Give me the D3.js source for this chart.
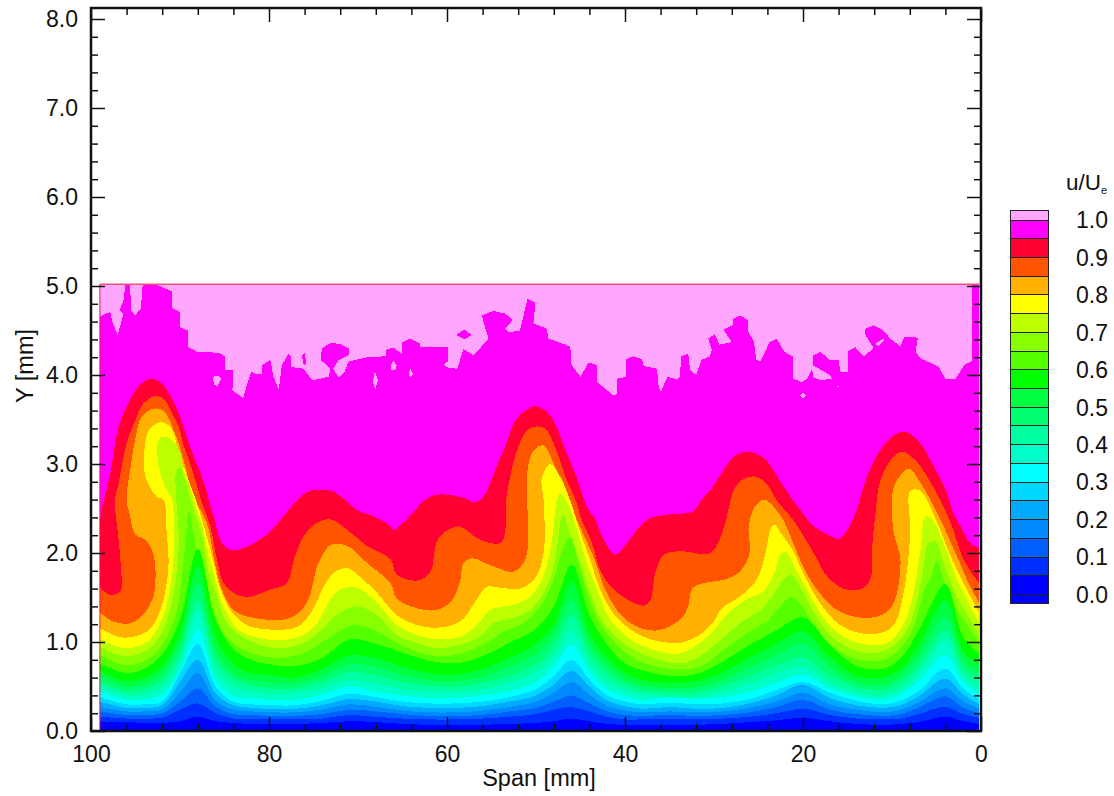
<!DOCTYPE html>
<html>
<head>
<meta charset="utf-8">
<script src="https://cdn.jsdelivr.net/npm/d3@7"></script>
<style>
  html, body { margin: 0; background: #fff; }
  text { font-family: "Liberation Sans", Arial, sans-serif; fill: #111; }
</style>
</head>
<body>
<svg id="chart" width="1114" height="796"></svg>
<script>
// contour levels of u/Ue and the colour of the band just under each one
const levels = [0.05,0.1,0.15,0.2,0.25,0.3,0.35,0.4,0.45,0.5,0.55,0.6,0.65,0.7,0.75,0.8,0.85,0.9,0.95,1.0];
const bandColors = ['#0000ff','#0030ff','#0060ff','#0088ff','#00aaff','#00d8ff','#00ffff','#00ffc8','#00ffa0','#00ff70',
  '#00ff40','#00ff00','#55ff00','#88ff00','#bbff00','#ffff00','#ffb000','#ff5500','#ff0033','#ff00ff'];
const colorAboveTop = '#ffa6ff';
const colorBelowZero = '#0000ff';
const legendTicks = [0,0.1,0.2,0.3,0.4,0.5,0.6,0.7,0.8,0.9,1.0];

// lower contours: height in mm at each span station
const spanStations = [99,96,94,92,90,88,86,84,82,80,77,74,71,68,65,62,59,56,53,50,48,46,44,42,40,38,35,32,29,26,23,20,17,14,11,9,7,4,2,0.2];
const h05 = [.10,.10,.09,.09,.11,.16,.11,.09,.08,.08,.08,.09,.11,.10,.08,.07,.07,.07,.08,.09,.11,.14,.11,.08,.07,.07,.07,.07,.08,.10,.12,.15,.11,.08,.07,.08,.10,.16,.11,.08];
const h10 = [.16,.14,.14,.15,.24,.31,.20,.14,.13,.13,.13,.14,.18,.16,.14,.13,.13,.14,.16,.19,.24,.27,.22,.16,.13,.13,.13,.13,.14,.16,.20,.25,.18,.14,.13,.14,.19,.27,.19,.15];
const h15 = [.22,.18,.18,.20,.33,.48,.27,.19,.18,.17,.17,.19,.24,.22,.19,.17,.17,.18,.22,.26,.33,.40,.31,.22,.18,.17,.18,.17,.18,.21,.27,.35,.24,.19,.17,.19,.26,.39,.26,.20];
const h20 = [.27,.22,.22,.24,.43,.65,.34,.24,.22,.21,.21,.24,.30,.27,.23,.21,.21,.23,.27,.33,.43,.55,.41,.28,.23,.21,.22,.21,.22,.26,.33,.43,.30,.24,.21,.24,.32,.48,.33,.25];
const h25 = [.33,.26,.26,.29,.55,.80,.42,.29,.26,.25,.25,.29,.36,.33,.28,.26,.26,.28,.33,.40,.52,.68,.50,.34,.28,.25,.27,.25,.26,.31,.40,.52,.37,.29,.26,.29,.39,.59,.41,.30];
const h30 = [.38,.30,.30,.33,.65,.98,.50,.33,.30,.29,.29,.34,.42,.38,.33,.31,.31,.33,.38,.47,.62,.80,.58,.40,.33,.30,.32,.30,.31,.36,.46,.55,.43,.34,.30,.34,.45,.70,.48,.35];
const h35 = [.44,.35,.35,.41,.68,1.15,.57,.39,.37,.35,.35,.41,.50,.44,.40,.37,.37,.40,.45,.55,.72,.97,.67,.47,.39,.35,.38,.36,.38,.44,.54,.63,.48,.39,.35,.41,.56,.85,.55,.42];
const h40 = [.50,.40,.41,.49,.78,1.36,.68,.49,.45,.42,.43,.48,.57,.53,.47,.45,.44,.47,.54,.66,.83,1.12,.76,.55,.46,.41,.38,.38,.44,.53,.64,.72,.54,.43,.40,.47,.65,1.02,.62,.50];
const h45 = [.55,.45,.47,.57,.88,1.47,.80,.58,.51,.48,.48,.55,.66,.63,.55,.51,.50,.54,.62,.75,.95,1.30,.87,.64,.52,.46,.43,.43,.51,.62,.74,.83,.62,.49,.46,.54,.74,1.13,.70,.58];
const h50 = [.61,.50,.53,.65,.98,1.66,.90,.65,.57,.55,.54,.62,.75,.72,.63,.57,.56,.61,.72,.87,1.08,1.47,.98,.73,.58,.51,.48,.49,.58,.72,.85,.98,.72,.55,.52,.62,.85,1.28,.80,.66];
const h55 = [.67,.56,.60,.73,1.10,1.85,1.05,.75,.65,.63,.60,.70,.85,.82,.72,.65,.63,.70,.82,.98,1.20,1.68,1.10,.82,.65,.57,.54,.56,.66,.83,.98,1.12,.83,.62,.60,.70,.97,1.47,.90,.75];
const h60 = [.76,.65,.70,.86,1.25,2.05,1.25,.92,.80,.75,.73,.82,1.03,.98,.88,.79,.76,.84,.99,1.15,1.40,1.87,1.30,.97,.76,.68,.62,.64,.78,.97,1.13,1.28,.97,.73,.70,.82,1.13,1.65,1.05,.87];

// upper contours fold back on themselves, so these are [span, height]
const c65 = [[99,.86],[96.35,.74],[93.7,.8],[91.85,.99],[90.35,1.36],[89.4,2.11],[89,2.47],[88.5,2.22],[87.5,1.74],[86.4,1.4],[85.1,1.1],[82.85,.91],[79.1,.82],[75.75,.89],[73.1,1.06],[70.5,1.19],[67.85,1.12],[65.65,.99],[63.4,.89],[61.15,.84],[58.5,.87],[55.9,.97],[53.6,1.12],[51.4,1.21],[49.5,1.4],[48,1.7],[46.9,2.07],[46.1,2.18],[45.4,1.96],[44.3,1.59],[43,1.25],[40.9,.97],[38.3,.78],[33.8,.69],[31.2,.74],[28.95,.91],[26.3,1.1],[24.1,1.23],[22.6,1.4],[21.25,1.51],[20.1,1.4],[18.45,1.14],[16.2,.91],[13.55,.8],[10.95,.8],[9.05,.93],[7.55,1.17],[6.25,1.62],[5.7,1.7],[5,1.91],[4.2,1.7],[2.7,1.36],[1.2,1.14],[.2,.99]];
const c70 = [[99,.95],[96.35,.84],[93.7,.91],[92.05,1.1],[90.7,1.55],[90.15,2.11],[90.35,2.52],[90.5,2.74],[90.4,2.93],[90,2.96],[89.6,2.86],[89,2.67],[88.5,2.49],[87.5,2.19],[86.8,1.79],[86,1.55],[84.7,1.21],[82.5,1.03],[79.1,.93],[76.1,.99],[73.85,1.16],[72.35,1.31],[70.1,1.4],[67.85,1.3],[65.65,1.08],[63.4,.99],[61.15,.93],[58.5,.97],[56.3,1.06],[54.8,1.21],[52.5,1.27],[50.65,1.36],[49.15,1.55],[48,1.85],[47.1,2.41],[46.9,2.43],[46.15,2.19],[45,1.89],[43.9,1.55],[42.6,1.25],[40.5,1.01],[37.9,.86],[33.8,.76],[31.6,.84],[29.3,1.02],[27.1,1.21],[24.8,1.36],[23.3,1.53],[22.2,1.7],[21.25,1.75],[20.3,1.61],[18.8,1.34],[16.95,1.08],[14.3,.91],[11.7,.88],[9.45,.99],[7.95,1.21],[6.6,1.74],[5.9,2.11],[5.1,2.13],[4.2,1.89],[2.7,1.51],[1.2,1.25],[.2,1.08]];
const c75 = [[99,1.04],[96.35,.93],[93.7,1.0],[92.05,1.25],[90.9,1.73],[90.7,2.22],[90.9,2.6],[91.65,2.74],[92.4,2.97],[92.4,3.27],[91.65,3.31],[90.7,3.25],[90,3.14],[89.6,2.93],[88.85,2.74],[88.1,2.48],[87.5,2.3],[86.8,1.96],[86.2,1.77],[85.3,1.44],[83.6,1.15],[81.7,1.06],[78.7,1.02],[76.1,1.08],[74.6,1.21],[73.1,1.48],[72,1.59],[70.1,1.61],[67.85,1.44],[65.65,1.19],[63.4,1.08],[61.15,1.03],[58.5,1.06],[56.65,1.19],[55.15,1.36],[52.5,1.42],[50.65,1.51],[49.15,1.74],[48.2,2.15],[47.65,2.6],[47.3,2.67],[46.3,2.52],[45.4,2.26],[44.3,1.89],[43.15,1.59],[41.65,1.25],[39.4,1.03],[36.8,.91],[33.8,.87],[31.6,.99],[30.05,1.12],[28.55,1.31],[26.3,1.48],[24.45,1.57],[23.1,1.81],[22.6,1.98],[21.9,2.01],[20.9,1.83],[19.55,1.59],[17.7,1.27],[15.45,1.06],[12.8,.97],[10.6,.99],[9.05,1.14],[7.95,1.4],[6.8,2.04],[6.25,2.41],[5.5,2.38],[4.2,2.11],[2.7,1.7],[1.2,1.4],[.2,1.21]];
const c80 = [[99,1.15],[96.35,1.05],[93.7,1.12],[92.2,1.36],[91.3,1.85],[91.5,2.22],[91.85,2.6],[92.6,2.63],[93.9,2.86],[94,3.15],[93.5,3.38],[92.2,3.47],[91.1,3.42],[90,3.08],[89.2,2.86],[88.1,2.56],[87.2,2.26],[86.2,1.89],[85.65,1.66],[84.35,1.36],[82.5,1.19],[79.85,1.14],[76.85,1.17],[75.35,1.32],[73.85,1.62],[72.7,1.78],[71.2,1.83],[70.1,1.76],[67.85,1.55],[65.65,1.3],[63.4,1.19],[61.15,1.16],[58.5,1.23],[56.65,1.48],[55.55,1.62],[54,1.61],[51.8,1.6],[50.1,1.72],[49.15,2],[49.15,2.6],[49.35,2.84],[48.4,3],[47.3,2.86],[46.15,2.59],[45,2.22],[43.9,1.92],[42.8,1.59],[41.3,1.32],[39.4,1.14],[37.15,1.03],[34.9,.99],[33.8,.99],[31.6,1.08],[30.05,1.23],[29.1,1.38],[27.1,1.51],[25.2,1.7],[24.3,1.96],[23.5,2.3],[23.1,2.31],[22.6,2.24],[21.1,2.02],[20,1.78],[18.1,1.44],[15.85,1.19],[13.6,1.1],[11.3,1.1],[9.8,1.19],[8.7,1.55],[7.95,2.22],[7.95,2.7],[6.8,2.7],[5.7,2.52],[4.6,2.26],[3.1,1.89],[1.6,1.59],[.2,1.33]];
const c85 = [[99,1.33],[97.5,1.23],[95.6,1.21],[94.1,1.31],[93,1.51],[92.8,1.89],[93.2,2.04],[93.9,2.15],[95.05,2.21],[95.6,2.41],[96,2.6],[95.6,2.93],[95.05,3.27],[94.3,3.53],[93,3.62],[91.85,3.6],[90.7,3.38],[90.15,3.23],[89.4,2.97],[88.5,2.63],[87,2.34],[86,1.85],[85.3,1.59],[84,1.36],[81.7,1.27],[77.6,1.27],[75.75,1.44],[74.6,1.85],[73.85,2],[73.1,2.09],[71.2,2.08],[69,1.89],[66.35,1.66],[65.65,1.49],[63.4,1.38],[61.15,1.36],[59.5,1.46],[58.5,1.7],[58.15,1.89],[57.2,1.94],[54.8,1.85],[52.5,1.79],[51.2,1.93],[50.85,2.22],[51,2.6],[50.85,3],[50.1,3.17],[49.15,3.21],[48,3],[46.5,2.63],[45.6,2.42],[44.65,2.2],[43.5,1.95],[42.4,1.63],[40.9,1.36],[39,1.19],[36.4,1.13],[33.8,1.25],[32.9,1.4],[32.6,1.57],[32.1,1.63],[30.1,1.68],[28.8,1.7],[27.1,1.79],[26,2],[26.1,2.3],[25.4,2.52],[24.45,2.6],[23.9,2.58],[22.2,2.37],[21.1,2.11],[20,1.85],[18.45,1.59],[16.2,1.36],[13.2,1.27],[11,1.31],[9.8,1.44],[9.05,1.93],[9.8,2.22],[10,2.6],[9.65,2.78],[8.1,2.95],[7,2.82],[5.7,2.6],[4.2,2.3],[2.7,1.96],[1.2,1.62],[.2,1.44]];
const c90 = [[99,1.61],[97.85,1.53],[96.7,1.57],[96.65,1.85],[96.9,2.15],[97.3,2.6],[96.9,2.78],[96,3.23],[95.2,3.45],[94.1,3.68],[93,3.76],[91.9,3.74],[90.9,3.57],[90.15,3.42],[89.65,3.23],[88.85,3],[87.5,2.56],[86.6,2.3],[85.85,1.93],[85.1,1.66],[83.6,1.53],[82.1,1.51],[79.85,1.59],[78,1.66],[77.2,1.93],[76.1,2.19],[74.6,2.34],[73.1,2.38],[71.2,2.26],[69,2.08],[66.35,1.93],[65.65,1.76],[63.4,1.69],[61.9,1.78],[61.3,2.08],[60.8,2.19],[58.7,2.3],[56.3,2.15],[54,2.11],[53.5,2.22],[53.35,2.6],[52.9,2.86],[52.15,3.15],[51,3.38],[50.1,3.42],[49,3.4],[47.85,3.19],[46.7,2.86],[45.4,2.56],[45,2.41],[43.7,2.11],[42.8,1.81],[41.65,1.63],[39.8,1.48],[37.9,1.41],[37.15,1.47],[36.6,1.78],[35.65,1.98],[33.8,2.02],[30.4,2],[29.1,2.22],[28.4,2.48],[27.8,2.7],[26.9,2.82],[25.4,2.86],[24.1,2.78],[22.95,2.59],[21.1,2.37],[18.8,2],[17.3,1.74],[15.45,1.6],[13.6,1.59],[12.45,1.7],[12.25,2.04],[11.9,2.41],[11.3,2.82],[10.2,3.04],[8.9,3.14],[7.55,3.06],[6.05,2.86],[4.55,2.59],[3.25,2.3],[2.1,1.96],[.8,1.74],[.2,1.66]];
const c95 = [[99,2.35],[98.8,2.48],[97.85,2.89],[96.9,3.42],[96,3.64],[94.5,3.89],[93.2,3.96],[92,3.9],[90.35,3.62],[89.6,3.42],[89,3.23],[88.1,3],[87.15,2.74],[86.5,2.5],[86.2,2.41],[85.3,2.11],[84.2,2.03],[82.5,2.07],[80.2,2.21],[78.4,2.41],[76.5,2.63],[75.35,2.7],[73.1,2.7],[71.6,2.61],[70.1,2.48],[68.2,2.41],[66.35,2.3],[66,2.26],[64.7,2.36],[63.4,2.5],[62.3,2.61],[60.8,2.66],[58.5,2.63],[56.8,2.57],[55.9,2.63],[54.6,2.93],[53.5,3.19],[52.3,3.49],[51.2,3.6],[50.1,3.65],[48.8,3.59],[47.8,3.44],[46.7,3.16],[45.4,2.84],[44.7,2.63],[44.1,2.48],[43.5,2.41],[42.4,2.15],[41.1,1.98],[39.8,2.11],[38.65,2.26],[37.15,2.39],[35.3,2.43],[33.8,2.44],[32.3,2.47],[31.4,2.6],[30.45,2.7],[28.95,2.93],[28,3.06],[26.9,3.13],[25.6,3.13],[24.1,3.04],[23.1,2.89],[21.8,2.69],[20.3,2.48],[18.8,2.3],[17.3,2.21],[16,2.16],[14.9,2.28],[14,2.48],[12.8,2.86],[11.3,3.16],[10.2,3.29],[9.1,3.36],[8,3.34],[6.8,3.23],[5.3,2.97],[3.8,2.67],[3.25,2.48],[2.3,2.3],[1.2,2.11],[.2,2.06]];
const c100 = [[99,4.66],[97.85,4.71],[97.55,4.58],[97,4.45],[96.35,4.69],[96.8,4.73],[96.35,4.84],[96.15,5.01],[95.6,5.01],[95.5,4.73],[95.05,4.67],[94.4,4.75],[94.2,5.01],[93,5.03],[92.05,4.99],[90.9,4.94],[90.9,4.75],[90,4.71],[90,4.54],[89.15,4.5],[89.15,4.32],[88.1,4.26],[85.65,4.25],[85,4.21],[85,4.06],[84,4.06],[84,3.89],[84.15,3.83],[82.9,3.74],[82.45,3.9],[82,4.04],[81.5,4.01],[80.8,4.01],[80.8,4.11],[79.85,4.17],[79.5,3.98],[78.9,3.83],[78.55,4.11],[77.8,4.24],[77.5,4.2],[77.5,4.09],[76.1,4.07],[75.15,3.94],[73.3,3.98],[73.1,4.07],[74.2,4.17],[74.05,4.3],[73.1,4.36],[72,4.35],[71.05,4.3],[71.05,4.22],[72.15,4.17],[72.8,4.07],[72.15,3.97],[71.5,4.04],[71.05,4.15],[69,4.2],[66.9,4.21],[66.9,4.28],[66.05,4.31],[65.1,4.24],[65,4.37],[64.15,4.41],[63.1,4.36],[63,4.31],[59.9,4.31],[59.9,4.15],[60.4,4.12],[59.85,4.08],[58.85,4.07],[58.15,4.29],[57,4.22],[55.35,4.41],[56.1,4.67],[54.8,4.72],[53.45,4.69],[52.6,4.62],[53.45,4.52],[53,4.48],[51.8,4.5],[50.95,4.86],[50.05,4.81],[50.3,4.58],[48.8,4.52],[48.6,4.41],[46.15,4.32],[46,4.11],[45,3.98],[44.1,4.14],[43.15,4.11],[43.1,3.92],[41.3,3.77],[40.85,3.79],[40.85,3.96],[39.85,3.98],[39.85,4.18],[39.05,4.21],[38.1,4.18],[37.9,4.1],[36.4,4.07],[36.2,3.85],[35.95,3.81],[35.25,3.98],[34.15,3.95],[33.82,3.98],[33.7,4.21],[32.9,4.24],[32.7,4.06],[32,4],[31.4,4.17],[30.45,4.21],[30.25,4.28],[30.65,4.41],[29.9,4.46],[29.4,4.34],[28,4.37],[28.95,4.51],[27.9,4.56],[27.9,4.63],[27.1,4.67],[26.2,4.62],[26.15,4.49],[25.5,4.37],[25.25,4.17],[24.8,4.15],[23.75,4.37],[22.95,4.41],[22.1,4.26],[21.15,4.21],[21.15,3.96],[20.15,3.92],[19.5,3.96],[19,4.06],[18.8,3.97],[17.9,3.94],[16.75,3.96],[16.95,4],[18.9,4.11],[18.9,4.22],[18.05,4.26],[17,4.17],[16,4.17],[15.8,4.04],[14.9,4.03],[14.9,4.27],[14.1,4.31],[13.2,4.21],[12.05,4.3],[13,4.45],[13,4.52],[12.05,4.56],[11.1,4.51],[10.2,4.41],[9.05,4.32],[8.6,4.43],[7.1,4.42],[7.35,4.26],[6.8,4.19],[4.75,4.09],[4,3.96],[2.9,3.95],[1.9,4.11],[1,4.16],[1,5.03],[.2,5.03]];

// closed islands along the 1.0 contour
const pinkIslands = [
  [[86.35,3.98],[85.65,3.99],[85.4,3.96],[85.8,3.87],[86.15,3.89]],
  [[68.1,4.04],[67.75,3.94],[68.05,3.84],[68.35,3.92]],
  [[66.3,4.11],[66.05,4.16],[65.65,4.11],[65.85,4.05],[66.25,4.06]],
  [[64.08,4.07],[63.8,4.01],[64.08,3.97],[64.35,4.01]],
  [[20.3,3.77],[20,3.8],[19.7,3.77],[20,3.74]],
  [[16.2,3.88],[15.95,3.88],[15.95,3.86],[16.2,3.86]],
  [[11.9,4.35],[10.95,4.41],[10.85,4.39],[11.5,4.33]]
];
const magentaIslands = [
  [[58.95,4.45],[58.05,4.51],[57.2,4.45],[58.05,4.4]],
  [[76.3,4.22],[76,4.25],[75.8,4.13],[76.1,4.11]]
];

const xMajor = [100,80,60,40,20,0];
const xMinor = [96,92,88,84,76,72,68,64,56,52,48,44,36,32,28,24,16,12,8,4];
const yMajor = [0,1,2,3,4,5,6,7,8];
const yMinor = [.2,.4,.6,.8,1.2,1.4,1.6,1.8,2.2,2.4,2.6,2.8,3.2,3.4,3.6,3.8,4.2,4.4,4.6,4.8,5.2,5.4,5.6,5.8,6.2,6.4,6.6,6.8,7.2,7.4,7.6,7.8];

const dataLeft = 99, dataRight = 0.2, dataTop = 5.02;
const plotLeft = 91, plotRight = 981, plotTop = 8, plotBottom = 731;

const svg = d3.select('#chart');
const x = d3.scaleLinear().domain([100,0]).range([plotLeft,plotRight]);
const y = d3.scaleLinear().domain([0,(plotBottom-plotTop)/89]).range([plotBottom,plotTop]);

svg.append('clipPath').attr('id','dataClip').append('rect')
  .attr('x',x(dataLeft)).attr('y',y(dataTop))
  .attr('width',x(dataRight)-x(dataLeft)).attr('height',y(0)-y(dataTop));

const field = svg.append('g').attr('clip-path','url(#dataClip)').attr('shape-rendering','crispEdges');

// everything above 1.0 first, then paint each "u below level" region over it, top level down
field.append('rect')
  .attr('x',x(dataLeft)).attr('y',y(dataTop))
  .attr('width',x(dataRight)-x(dataLeft)).attr('height',y(0)-y(dataTop))
  .attr('fill',colorAboveTop);

const smooth = d3.line().x(d=>x(d[0])).y(d=>y(d[1])).curve(d3.curveCatmullRom.alpha(0.5));
const straight = d3.line().x(d=>x(d[0])).y(d=>y(d[1]));

function stations(heights) {
  return heights.map((h,i)=>[spanStations[i],h]);
}
function regionBelow(points, gen) {
  const first = points[0], last = points[points.length-1];
  return gen(points) + `L${x(last[0])},${y(0)+2}L${x(first[0])},${y(0)+2}Z`;
}

const contourLines = [stations(h05),stations(h10),stations(h15),stations(h20),stations(h25),stations(h30),stations(h35),
  stations(h40),stations(h45),stations(h50),stations(h55),stations(h60),c65,c70,c75,c80,c85,c90,c95,c100];

for (let i = levels.length-1; i >= 0; i--) {
  field.append('path')
    .attr('d',regionBelow(contourLines[i], i==levels.length-1 ? straight : smooth))
    .attr('fill',bandColors[i]);
  if (i==levels.length-1) {
    pinkIslands.forEach(p=>{
      field.append('path').attr('d',straight(p)+'Z').attr('fill',colorAboveTop);
    });
    magentaIslands.forEach(p=>{
      field.append('path').attr('d',straight(p)+'Z').attr('fill',bandColors[i]);
    });
  }
}

// thin red edge on the top and left of the data
svg.append('line').attr('x1',x(dataLeft)).attr('x2',x(dataRight)).attr('y1',y(dataTop)).attr('y2',y(dataTop))
  .attr('stroke','#f0507a').attr('stroke-width',1.5);
svg.append('line').attr('x1',x(dataLeft)).attr('x2',x(dataLeft)).attr('y1',y(dataTop)).attr('y2',y(0))
  .attr('stroke','#f01040').attr('stroke-width',1);

// frame and ticks, all four sides
const axes = svg.append('g');
function addAxis(maker, scale, values, size, tx, ty, fmt) {
  const a = maker(scale).tickValues(values).tickSizeInner(size).tickSizeOuter(0).tickPadding(7).tickFormat(fmt||(()=>''));
  const g = axes.append('g').attr('transform',`translate(${tx},${ty})`).call(a);
  g.select('.domain').remove();
  g.selectAll('.tick line').attr('stroke','#111').attr('stroke-width',1.5);
  return g;
}
const yFmt = d3.format('.1f');
const xLab = addAxis(d3.axisBottom,x,xMajor,-14,0,plotBottom,d=>d);
addAxis(d3.axisBottom,x,xMinor,-7,0,plotBottom);
addAxis(d3.axisTop,x,xMajor,-14,0,plotTop);
addAxis(d3.axisTop,x,xMinor,-7,0,plotTop);
const yLab = addAxis(d3.axisLeft,y,yMajor,-14,plotLeft,0,yFmt);
addAxis(d3.axisLeft,y,yMinor,-7,plotLeft,0);
addAxis(d3.axisRight,y,yMajor,-14,plotRight,0);
addAxis(d3.axisRight,y,yMinor,-7,plotRight,0);
xLab.selectAll('text').attr('font-size',23).attr('fill','#111').attr('dy','0.71em').attr('y',15);
yLab.selectAll('text').attr('font-size',23).attr('fill','#111').attr('x',-13);

axes.append('rect').attr('x',plotLeft).attr('y',plotTop).attr('width',plotRight-plotLeft).attr('height',plotBottom-plotTop)
  .attr('fill','none').attr('stroke','#111').attr('stroke-width',2.5);

svg.append('text').attr('x',539).attr('y',786).attr('text-anchor','middle').attr('font-size',23.5).text('Span [mm]');
svg.append('text').attr('transform','translate(33,366) rotate(-90)').attr('text-anchor','middle').attr('font-size',23.5).text('Y [mm]');

// colour legend
const lx = 1010, lw = 38, lz = d3.scaleLinear().domain([0,1]).range([594.5,220]);
const legend = svg.append('g');
const legendBands = [{from:-0.025,to:0,color:colorBelowZero}]
  .concat(levels.map((l,i)=>({from:l-0.05,to:l,color:bandColors[i]})))
  .concat([{from:1,to:1.025,color:colorAboveTop}]);
legend.selectAll('rect').data(legendBands).enter().append('rect')
  .attr('x',lx).attr('width',lw)
  .attr('y',d=>lz(d.to)).attr('height',d=>lz(d.from)-lz(d.to))
  .attr('fill',d=>d.color).attr('stroke','#222').attr('stroke-width',1)
  .attr('shape-rendering','crispEdges');
legend.selectAll('text.lab').data(legendTicks).enter().append('text')
  .attr('class','lab').attr('x',1076).attr('y',d=>lz(d)).attr('dy','0.36em')
  .attr('font-size',23).text(d=>yFmt(d));
const title = svg.append('text').attr('x',1066).attr('y',190).attr('font-size',22.5).text('u/U');
title.append('tspan').attr('font-size',11).attr('dy',4).text('e');
</script>
</body>
</html>
